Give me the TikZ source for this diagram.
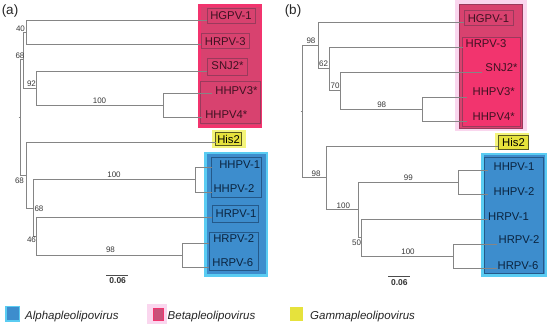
\documentclass[tikz,border=0pt]{standalone}
\usepackage{fontspec}
\setmainfont{Liberation Sans}
\definecolor{treegray}{HTML}{858585}
\definecolor{bscol}{HTML}{3A3A3A}
\definecolor{pinkbright}{HTML}{F2346E}
\definecolor{pinkdark}{HTML}{D8426F}
\definecolor{pinkline}{HTML}{9A3A5C}
\definecolor{pinkglow}{HTML}{FAD6EE}
\definecolor{pinktext}{HTML}{3E1222}
\definecolor{bluefill}{HTML}{3D8DCD}
\definecolor{bluecyan}{HTML}{5ACCF2}
\definecolor{blueline}{HTML}{24598A}
\definecolor{bluetext}{HTML}{0B2440}
\definecolor{yelfill}{HTML}{E6E23C}
\definecolor{yelglow}{HTML}{F4F47A}
\definecolor{yelline}{HTML}{5A5A20}
\definecolor{legpink}{HTML}{C9507A}
\begin{document}
\begin{tikzpicture}[x=1pt,y=-1pt,
  br/.style={draw=treegray, line width=0.8pt},
  tipp/.style={font=\fontsize{11.3}{12}\selectfont, text=pinktext, inner sep=0pt},
  tipb/.style={font=\fontsize{11.3}{12}\selectfont, text=bluetext, inner sep=0pt},
  tipy/.style={font=\fontsize{11.3}{12}\selectfont, text=black, inner sep=0pt},
  bs/.style={font=\fontsize{8}{9}\selectfont, text=bscol, inner sep=0pt},
  pbox/.style={draw=pinkline, line width=0.6pt},
  bbox/.style={draw=blueline, line width=0.6pt},
  panel/.style={font=\fontsize{13.5}{15}\selectfont, text=black!85, inner sep=0pt},
  scl/.style={font=\bfseries\fontsize{8.5}{10}\selectfont, text=black!80, inner sep=0pt},
  leg/.style={font=\itshape\fontsize{11.5}{13}\selectfont, text=black!85, inner sep=0pt, anchor=west}
]
\useasboundingbox (0,0) rectangle (550,328);
\fill[white] (0,0) rectangle (550,328);

% ================= panel (a) =================
\node[panel] (pa) at (10,11) {(a)};
% coloured groups
\fill[pinkbright] (198,4) rectangle (262,128);
\fill[pinkdark] (201,7) rectangle (259.5,125);
\draw[pbox] (207,8) rectangle (255,23);
\draw[pbox] (201,33) rectangle (249,48);
\draw[pbox] (207,58) rectangle (247,75);
\draw[pbox] (200,81) rectangle (260,123);
\fill[yelglow] (211.7,130) rectangle (245.7,147.7);
\filldraw[fill=yelfill, draw=yelline, line width=0.6pt] (215.7,132.3) rectangle (241.7,145);
\fill[bluecyan] (204,152) rectangle (268,277);
\fill[bluefill] (206.5,154.5) rectangle (265.5,274.5);
\draw[bbox] (211,157) rectangle (261,197);
\draw[bbox] (212,205) rectangle (258,222);
\draw[bbox] (209,232) rectangle (258,270);

% tree coordinates
\coordinate (a0) at (18.5,117.5);
\coordinate (aR) at (20,117.5);
\coordinate (aA1) at (23,59.5);
\coordinate (aN40) at (26,32);
\coordinate (aN92) at (36,88);
\coordinate (aN100) at (163,105);
\coordinate (aA2) at (26,175.5);
\coordinate (aN68) at (33,208);
\coordinate (aN100b) at (195,179.5);
\coordinate (aN46) at (36,236);
\coordinate (aN98) at (182,255);
\coordinate (atHGPV1) at (207,20);
\coordinate (atHRPV3) at (201,44);
\coordinate (atSNJ2) at (207,71);
\coordinate (atHHPV3) at (212,93);
\coordinate (atHHPV4) at (202,117);
\coordinate (atHis2) at (215.7,142);
\coordinate (atHHPV1) at (212,167);
\coordinate (atHHPV2) at (212,192);
\coordinate (atHRPV1) at (212,217);
\coordinate (atHRPV2) at (209,243);
\coordinate (atHRPV6) at (209,267);

\draw[br] (a0) -- (aR);
\draw[br] (aR) |- (aA1);
\draw[br] (aR) |- (aA2);
\draw[br] (aA1) |- (aN40);
\draw[br] (aA1) |- (aN92);
\draw[br] (aN40) |- (atHGPV1);
\draw[br] (aN40) |- (atHRPV3);
\draw[br] (aN92) |- (atSNJ2);
\draw[br] (aN92) |- (aN100);
\draw[br] (aN100) |- (atHHPV3);
\draw[br] (aN100) |- (atHHPV4);
\draw[br] (aA2) |- (atHis2);
\draw[br] (aA2) |- (aN68);
\draw[br] (aN68) |- (aN100b);
\draw[br] (aN68) |- (aN46);
\draw[br] (aN100b) |- (atHHPV1);
\draw[br] (aN100b) |- (atHHPV2);
\draw[br] (aN46) |- (atHRPV1);
\draw[br] (aN46) |- (aN98);
\draw[br] (aN98) |- (atHRPV2);
\draw[br] (aN98) |- (atHRPV6);

% tip labels
\node[tipp] (aHGPV1) at (231,16) {HGPV-1};
\node[tipp] (aHRPV3) at (225.3,41.5) {HRPV-3};
\node[tipp] (aSNJ2) at (227.5,66) {SNJ2*};
\node[tipp] (aHHPV3) at (236.4,91) {HHPV3*};
\node[tipp] (aHHPV4) at (226.3,114.5) {HHPV4*};
\node[tipy] (aHis2) at (228.6,139) {His2};
\node[tipb] (aHHPV1) at (239.7,164.3) {HHPV-1};
\node[tipb] (aHHPV2) at (234,189) {HHPV-2};
\node[tipb] (aHRPV1) at (236,213.7) {HRPV-1};
\node[tipb] (aHRPV2) at (233.7,238.3) {HRPV-2};
\node[tipb] (aHRPV6) at (232.8,262.8) {HRPV-6};

% bootstrap values
\node[bs] (ab40) at (20.5,28.5) {40};
\node[bs] (ab68a) at (20,55.5) {68};
\node[bs] (ab92) at (31.5,83.5) {92};
\node[bs] (ab100a) at (99.5,101) {100};
\node[bs] (ab68b) at (19.5,181) {68};
\node[bs] (ab68c) at (39,208.5) {68};
\node[bs] (ab100b) at (114,175) {100};
\node[bs] (ab46) at (31.5,240) {46};
\node[bs] (ab98) at (110.5,250) {98};

% scale bar
\coordinate (asL) at (106,275.3);
\coordinate (asR) at (128,275.3);
\draw[draw=black!70, line width=0.8pt] (asL) -- (asR);
\node[scl] (asT) at (117.7,280.8) {0.06};

% ================= panel (b) =================
\node[panel] (pb) at (293,11.5) {(b)};
\fill[pinkglow] (455,0) rectangle (527,131.5);
\filldraw[fill=pinkdark, draw=pinkline, line width=0.8pt] (459,4) rectangle (522,128);
\filldraw[fill=pinkbright, draw=pinkline, line width=0.6pt] (462,37) rectangle (520.5,126.5);
\draw[pbox] (464.3,10.5) rectangle (513.3,25.5);
\fill[yelglow] (495,133) rectangle (529,150);
\filldraw[fill=yelfill, draw=yelline, line width=0.6pt] (498,135) rectangle (528,149);
\fill[bluecyan] (481,153) rectangle (547,277);
\fill[bluefill] (483.5,155.5) rectangle (544.5,274.5);
\draw[bbox] (484.5,157) rectangle (543.5,273);

\coordinate (b0) at (300.5,111.6);
\coordinate (bR) at (302,111.6);
\coordinate (bN98t) at (318,45.4);
\coordinate (bN62) at (329,68.8);
\coordinate (bN70) at (340,90.5);
\coordinate (bN98c) at (422,109);
\coordinate (bN98l) at (326,177.9);
\coordinate (bN100) at (358,209.8);
\coordinate (bN99) at (458,182);
\coordinate (bN50) at (361,237.5);
\coordinate (bN100c) at (453,256);
\coordinate (btHGPV1) at (464.3,22);
\coordinate (btHRPV3) at (463,47);
\coordinate (btSNJ2) at (482,72);
\coordinate (btHHPV3) at (467,97);
\coordinate (btHHPV4) at (467,121);
\coordinate (btHis2) at (498,146);
\coordinate (btHHPV1) at (488,170);
\coordinate (btHHPV2) at (488,194);
\coordinate (btHRPV1) at (488,219);
\coordinate (btHRPV2) at (497,244);
\coordinate (btHRPV6) at (497,268);

\draw[br] (b0) -- (bR);
\draw[br] (bR) |- (bN98t);
\draw[br] (bR) |- (bN98l);
\draw[br] (bN98t) |- (btHGPV1);
\draw[br] (bN98t) |- (bN62);
\draw[br] (bN62) |- (btHRPV3);
\draw[br] (bN62) |- (bN70);
\draw[br] (bN70) |- (btSNJ2);
\draw[br] (bN70) |- (bN98c);
\draw[br] (bN98c) |- (btHHPV3);
\draw[br] (bN98c) |- (btHHPV4);
\draw[br] (bN98l) |- (btHis2);
\draw[br] (bN98l) |- (bN100);
\draw[br] (bN100) |- (bN99);
\draw[br] (bN100) |- (bN50);
\draw[br] (bN99) |- (btHHPV1);
\draw[br] (bN99) |- (btHHPV2);
\draw[br] (bN50) |- (btHRPV1);
\draw[br] (bN50) |- (bN100c);
\draw[br] (bN100c) |- (btHRPV2);
\draw[br] (bN100c) |- (btHRPV6);

\node[tipp] (bHGPV1) at (488.5,18.5) {HGPV-1};
\node[tipp] (bHRPV3) at (486,44) {HRPV-3};
\node[tipp] (bSNJ2) at (501.5,68) {SNJ2*};
\node[tipp] (bHHPV3) at (493.7,92) {HHPV3*};
\node[tipp] (bHHPV4) at (493.7,117) {HHPV4*};
\node[tipy] (bHis2) at (513.5,142) {His2};
\node[tipb] (bHHPV1) at (514,167) {HHPV-1};
\node[tipb] (bHHPV2) at (514,191.5) {HHPV-2};
\node[tipb] (bHRPV1) at (508.5,216.7) {HRPV-1};
\node[tipb] (bHRPV2) at (519,240) {HRPV-2};
\node[tipb] (bHRPV6) at (518,265.7) {HRPV-6};

\node[bs] (bb98a) at (311,40.5) {98};
\node[bs] (bb62) at (323.5,63.3) {62};
\node[bs] (bb70) at (335,85.5) {70};
\node[bs] (bb98b) at (381.7,105) {98};
\node[bs] (bb98c) at (316,173.3) {98};
\node[bs] (bb100a) at (343.3,205.5) {100};
\node[bs] (bb99) at (408.3,178) {99};
\node[bs] (bb50) at (356.5,242.5) {50};
\node[bs] (bb100b) at (408,252) {100};

\coordinate (bsL) at (388.3,276.7);
\coordinate (bsR) at (410,276.7);
\draw[draw=black!70, line width=0.8pt] (bsL) -- (bsR);
\node[scl] (bsT) at (399.3,283) {0.06};

% ================= legend =================
\fill[bluecyan] (5,306) rectangle (20,322);
\fill[bluefill] (6.5,307.5) rectangle (18.5,320.5);
\node[leg] (lA) at (25,317) {Alphapleolipovirus};
\fill[pinkglow] (147,304) rectangle (167,324);
\filldraw[fill=legpink, draw=pinkbright, line width=0.8pt] (153,308) rectangle (163,320);
\node[leg] (lB) at (167.5,317) {Betapleolipovirus};
\fill[yelfill] (290,307) rectangle (303,321);
\node[leg] (lC) at (310,317) {Gammapleolipovirus};
\end{tikzpicture}
\end{document}
